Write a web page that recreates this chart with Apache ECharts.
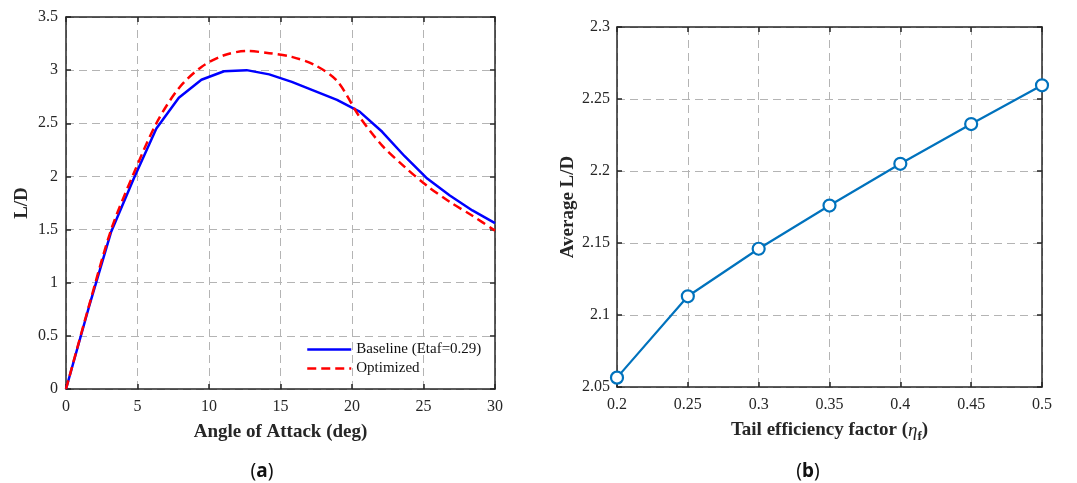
<!DOCTYPE html>
<html>
<head>
<meta charset="utf-8">
<script src="https://cdn.jsdelivr.net/npm/echarts@6/dist/echarts.min.js"></script>
<style>
html,body{margin:0;padding:0;background:#fff;}
#chart{width:1077px;height:483px;}
</style>
</head>
<body>
<div id="chart"></div>
<script>
// Panel (a): L/D vs angle of attack
const aoa = [0, 1.58, 3.16, 4.74, 6.32, 7.89, 9.47, 11.05, 12.63, 14.21, 15.79, 17.37, 18.95, 20.53, 22.11, 23.68, 25.26, 26.84, 28.42, 30];
const baselineLD = [0, 0.76, 1.48, 1.98, 2.45, 2.74, 2.91, 2.99, 3.0, 2.96, 2.89, 2.805, 2.72, 2.61, 2.42, 2.19, 1.98, 1.82, 1.68, 1.56];
const optimizedLD = [0, 0.77, 1.5, 2.03, 2.5, 2.83, 3.03, 3.14, 3.18, 3.16, 3.125, 3.05, 2.9, 2.56, 2.29, 2.09, 1.91, 1.76, 1.63, 1.49];
const seriesNamesA = ['Baseline (Etaf=0.29)', 'Optimized'];

// Panel (b): average L/D vs tail efficiency factor
const etaF = [0.2, 0.25, 0.3, 0.35, 0.4, 0.45, 0.5];
const avgLD = [2.0565, 2.113, 2.146, 2.176, 2.205, 2.2326, 2.2595];

const FONT = '"Liberation Serif", "DejaVu Serif", serif';
const AX = '#262626';
const GRIDC = '#b4b4b4';

function pairs(xs, ys){ return xs.map((x,i)=>[x, ys[i]]); }

function mainAxis(opts){
  return Object.assign({
    type:'value',
    axisLine:{show:true, onZero:false, lineStyle:{color:AX, width:1.5}},
    axisTick:{show:true, inside:true, length:5, lineStyle:{color:AX, width:1.5}},
    axisLabel:{show:true, color:AX, fontFamily:FONT, fontSize:16, margin:10},
    splitLine:{show:true, lineStyle:{color:GRIDC, width:1, type:[8,5]}},
    nameTextStyle:{color:AX, fontFamily:FONT, fontSize:19, fontWeight:'bold'},
    nameLocation:'middle'
  }, opts);
}
function boxAxis(opts){
  return Object.assign({
    type:'value',
    axisLine:{show:true, onZero:false, lineStyle:{color:AX, width:1.5}},
    axisTick:{show:true, inside:true, length:5, lineStyle:{color:AX, width:1.5}},
    axisLabel:{show:false},
    splitLine:{show:false}
  }, opts);
}
const fmt = v => String(Math.round(v*100)/100);

const chart = echarts.init(document.getElementById('chart'), null, {renderer:'canvas'});
const option = {
  backgroundColor:'#fff',
  animation:false,
  title:[
    {text:'({a|a})', left:257, top:457, textAlign:'center',
     textStyle:{fontFamily:'"Noto Sans", sans-serif', fontSize:19, fontWeight:'normal', color:'#111',
       rich:{a:{fontFamily:'"Noto Sans", sans-serif', fontSize:19, fontWeight:'bold', color:'#111'}}}},
    {text:'({b|b})', left:803, top:457, textAlign:'center',
     textStyle:{fontFamily:'"Noto Sans", sans-serif', fontSize:19, fontWeight:'normal', color:'#111',
       rich:{b:{fontFamily:'"Noto Sans", sans-serif', fontSize:19, fontWeight:'bold', color:'#111'}}}}
  ],
  grid:[
    {left:66, top:17, width:429, height:372, containLabel:false},
    {left:617, top:27, width:425, height:360, containLabel:false}
  ],
  legend:{
    data:seriesNamesA,
    orient:'vertical',
    left:301, top:337,
    itemWidth:44, itemHeight:14, itemGap:4,
    textStyle:{fontFamily:FONT, fontSize:15, color:'#111'},
    itemStyle:{opacity:0},
    lineStyle:{width:2.5}
  },
  xAxis:[
    mainAxis({gridIndex:0, position:'bottom', min:0, max:30, interval:5, name:'Angle of Attack (deg)', nameGap:34}),
    boxAxis({gridIndex:0, position:'top', min:0, max:30, interval:5}),
    mainAxis({gridIndex:1, position:'bottom', min:0.2, max:0.5, interval:0.05, nameGap:31,
      name:'{t|Tail efficiency factor (}{e|η}{s|f}{t|)}',
      nameTextStyle:{rich:{
        t:{fontFamily:FONT, fontSize:19, fontWeight:'bold', color:AX},
        e:{fontFamily:FONT, fontSize:19, fontStyle:'italic', color:AX},
        s:{fontFamily:FONT, fontSize:13, fontWeight:'bold', color:AX, verticalAlign:'bottom', padding:[12,0,0,0]}
      }},
      axisLabel:{color:AX, fontFamily:FONT, fontSize:16, margin:10, formatter:fmt}}),
    boxAxis({gridIndex:1, position:'top', min:0.2, max:0.5, interval:0.05})
  ],
  yAxis:[
    mainAxis({gridIndex:0, position:'left', min:0, max:3.5, interval:0.5, name:'L/D', nameGap:34, axisLabel:{color:AX, fontFamily:FONT, fontSize:16, margin:8}}),
    boxAxis({gridIndex:0, position:'right', min:0, max:3.5, interval:0.5}),
    mainAxis({gridIndex:1, position:'left', min:2.05, max:2.3, interval:0.05, name:'Average L/D', nameGap:39,
      axisLabel:{color:AX, fontFamily:FONT, fontSize:16, margin:7, formatter:fmt}}),
    boxAxis({gridIndex:1, position:'right', min:2.05, max:2.3, interval:0.05})
  ],
  series:[
    {name:seriesNamesA[0], type:'line', xAxisIndex:0, yAxisIndex:0, data:pairs(aoa, baselineLD),
     symbol:'none', lineStyle:{color:'#0000ff', width:2.5}, itemStyle:{color:'#0000ff'}, z:3},
    {name:seriesNamesA[1], type:'line', xAxisIndex:0, yAxisIndex:0, data:pairs(aoa, optimizedLD),
     symbol:'none', smooth:0.3, lineStyle:{color:'#ff0000', width:2.5, type:[9,5]}, itemStyle:{color:'#ff0000'}, z:4},
    {name:'Average L/D', type:'line', xAxisIndex:2, yAxisIndex:2, data:pairs(etaF, avgLD),
     symbol:'circle', symbolSize:12, lineStyle:{color:'#0072BD', width:2.2},
     itemStyle:{color:'#ffffff', borderColor:'#0072BD', borderWidth:2.2}, z:3}
  ]
};
chart.setOption(option);
</script>
</body>
</html>
